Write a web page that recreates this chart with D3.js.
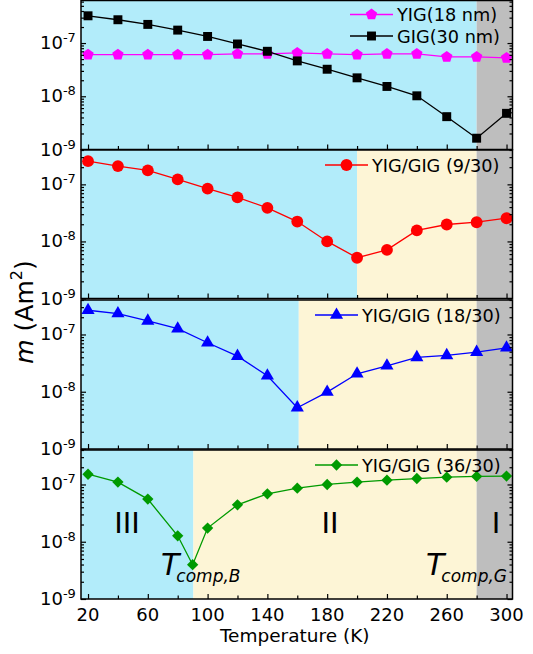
<!DOCTYPE html>
<html>
<head>
<meta charset="utf-8">
<script src="https://cdn.jsdelivr.net/npm/d3@7"></script>
<style>
  html, body { margin: 0; padding: 0; background: #fff; }
  svg { display: block; font-family: "DejaVu Sans", Verdana, sans-serif; }
</style>
</head>
<body>
<svg id="chart" width="533" height="654"></svg>
<script>
// Temperatures (K)
const temps = [20, 40, 60, 80, 100, 120, 140, 160, 180, 200, 220, 240, 260, 280, 300];
const tempsBilayer36 = [20, 40, 60, 80, 90, 100, 120, 140, 160, 180, 200, 220, 240, 260, 280, 300];

// Magnetic moment m (A m^2)
const yig18 = [6.06e-8, 6.06e-8, 6.06e-8, 6.06e-8, 6.06e-8, 6.24e-8, 6.24e-8, 6.52e-8, 6.24e-8, 6.06e-8, 6.24e-8, 6.24e-8, 5.48e-8, 5.48e-8, 5.25e-8];
const gig30 = [3.25e-7, 2.74e-7, 2.24e-7, 1.75e-7, 1.33e-7, 9.6e-8, 7.0e-8, 4.62e-8, 3.22e-8, 2.22e-8, 1.53e-8, 1.02e-8, 4.14e-9, 1.63e-9, 4.78e-9];
const bilayer9 = [2.55e-7, 2.09e-7, 1.76e-7, 1.22e-7, 8.43e-8, 5.91e-8, 3.88e-8, 2.23e-8, 1.0e-8, 5.18e-9, 7.1e-9, 1.56e-8, 1.98e-8, 2.17e-8, 2.55e-8];
const bilayer18 = [2.65e-7, 2.32e-7, 1.73e-7, 1.26e-7, 7.17e-8, 4.19e-8, 1.90e-8, 5.26e-9, 9.87e-9, 2.06e-8, 2.84e-8, 3.97e-8, 4.30e-8, 4.92e-8, 5.85e-8];
const bilayer36 = [1.51e-7, 1.10e-7, 5.55e-8, 1.27e-8, 3.97e-9, 1.73e-8, 4.41e-8, 6.87e-8, 8.63e-8, 1.0e-7, 1.10e-7, 1.19e-7, 1.27e-7, 1.34e-7, 1.38e-7, 1.40e-7];

// Labels
const seriesNames = ["YIG(18 nm)", "GIG(30 nm)", "YIG/GIG (9/30)", "YIG/GIG (18/30)", "YIG/GIG (36/30)"];
const xTickValues = [20, 60, 100, 140, 180, 220, 260, 300];
const yTickExponents = [-9, -8, -7];
const regionNames = ["III", "II", "I"];

// Compensation temperatures bounding the shaded regions (K)
const tCompG = 280;
const tCompB = [200, 161, 90.5];

const svg = d3.select("#chart");
const xLeft = 81, xRight = 512.5;
const x = d3.scaleLinear().domain([15.3, 304]).range([xLeft, xRight]);

const CYAN = "#b2ecfa", BEIGE = "#fdf5d6", GRAY = "#bebebe";
const FS = 18;

// Pentagon symbol
const symbolPentagon = {
  draw(ctx, size) {
    const r = Math.sqrt(size / 2.378);
    for (let i = 0; i < 5; i++) {
      const a = -Math.PI / 2 + i * 2 * Math.PI / 5;
      const px = r * Math.cos(a), py = r * Math.sin(a);
      if (i === 0) ctx.moveTo(px, py); else ctx.lineTo(px, py);
    }
    ctx.closePath();
  }
};

const panels = [
  { top: 0.5, bottom: 149.5, yMax: 6.3e-7, legendX: 397,
    shades: [[15.3, tCompG, CYAN], [tCompG, 304, GRAY]],
    series: [
      { xs: temps, ys: yig18, color: "#ff00ff", symbol: symbolPentagon, size: 85, rot: 0, name: seriesNames[0] },
      { xs: temps, ys: gig30, color: "#000000", symbol: d3.symbolSquare, size: 80, rot: 0, name: seriesNames[1] }
    ] },
  { top: 150, bottom: 298.5, yMax: 4e-7, legendX: 372,
    shades: [[15.3, tCompB[0], CYAN], [tCompB[0], tCompG, BEIGE], [tCompG, 304, GRAY]],
    series: [ { xs: temps, ys: bilayer9, color: "#ff0000", symbol: d3.symbolCircle, size: 110, rot: 0, name: seriesNames[2] } ] },
  { top: 300, bottom: 449, yMax: 4e-7, legendX: 362,
    shades: [[15.3, tCompB[1], CYAN], [tCompB[1], tCompG, BEIGE], [tCompG, 304, GRAY]],
    series: [ { xs: temps, ys: bilayer18, color: "#0000ff", symbol: d3.symbolTriangle, size: 75, rot: 0, name: seriesNames[3] } ] },
  { top: 450, bottom: 599, yMax: 4e-7, legendX: 362,
    shades: [[15.3, tCompB[2], CYAN], [tCompB[2], tCompG, BEIGE], [tCompG, 304, GRAY]],
    series: [ { xs: tempsBilayer36, ys: bilayer36, color: "#009a00", symbol: d3.symbolSquare, size: 64, rot: 45, name: seriesNames[4] } ] }
];

panels.forEach((p, pi) => {
  const y = d3.scaleLog().domain([1e-9, p.yMax]).range([p.bottom, p.top]);
  const g = svg.append("g");

  // Shaded regions
  p.shades.forEach(([a, b, c]) => {
    g.append("rect").attr("x", x(a)).attr("y", p.top)
      .attr("width", x(b) - x(a)).attr("height", p.bottom - p.top).attr("fill", c);
  });

  // Series lines and markers
  p.series.forEach(s => {
    const pts = s.xs.map((t, i) => [t, s.ys[i]]);
    g.append("path").datum(pts)
      .attr("fill", "none").attr("stroke", s.color).attr("stroke-width", 1.3)
      .attr("d", d3.line().x(d => x(d[0])).y(d => y(d[1])));
    g.selectAll(null).data(pts).enter().append("path")
      .attr("d", d3.symbol().type(s.symbol).size(s.size))
      .attr("transform", d => `translate(${x(d[0])},${y(d[1])}) rotate(${s.rot})`)
      .attr("fill", s.color);
  });

  // Frame
  g.append("rect").attr("x", xLeft).attr("y", p.top)
    .attr("width", xRight - xLeft).attr("height", p.bottom - p.top)
    .attr("fill", "none").attr("stroke", "#000").attr("stroke-width", 1.5);

  // Y ticks (major and minor, inward, both sides)
  const majors = yTickExponents.map(e => Math.pow(10, e));
  const minors = [];
  for (let e = -9; e <= -7; e++) for (let m = 2; m <= 9; m++) {
    const v = m * Math.pow(10, e);
    if (v <= p.yMax) minors.push(v);
  }
  const leftAxis = d3.axisLeft(y).tickValues(majors).tickSize(-5).tickFormat("");
  const leftMinor = d3.axisLeft(y).tickValues(minors).tickSize(-3).tickFormat("");
  const rightAxis = d3.axisRight(y).tickValues(majors).tickSize(-5).tickFormat("");
  const rightMinor = d3.axisRight(y).tickValues(minors).tickSize(-3).tickFormat("");
  [[leftAxis, xLeft], [leftMinor, xLeft], [rightAxis, xRight], [rightMinor, xRight]].forEach(([ax, tx]) => {
    const a = g.append("g").attr("transform", `translate(${tx},0)`).call(ax);
    a.select(".domain").remove();
    a.selectAll("line").attr("stroke", "#000").attr("stroke-width", 1.2);
  });

  // Y tick labels: 10^n
  majors.forEach((v, i) => {
    const t = g.append("text").attr("x", 40).attr("y", y(v) + 6)
      .attr("font-size", FS).attr("fill", "#000");
    t.append("tspan").text("10");
    t.append("tspan").attr("font-size", 13).attr("dy", -7).text("-" + Math.abs(yTickExponents[i]).toString());
  });

  // X ticks (inward at panel bottom)
  const xMajor = d3.axisBottom(x).tickValues(xTickValues).tickSize(-5).tickFormat("");
  const xMinor = d3.axisBottom(x).tickValues(temps.filter(t => !xTickValues.includes(t))).tickSize(-3.5).tickFormat("");
  [xMajor, xMinor].forEach(ax => {
    const a = g.append("g").attr("transform", `translate(0,${p.bottom})`).call(ax);
    a.select(".domain").remove();
    a.selectAll("line").attr("stroke", "#000").attr("stroke-width", 1.2);
  });

  // Legend
  p.series.forEach((s, si) => {
    const ly = p.top + (pi === 0 ? 14 + si * 21.5 : 15);
    const tx = p.legendX;
    g.append("text").attr("x", tx).attr("y", ly + 6.5)
      .attr("font-size", 17.7).attr("fill", "#000").text(s.name);
    const x1 = tx - 4, x0 = x1 - 43;
    g.append("line").attr("x1", x0).attr("x2", x1).attr("y1", ly).attr("y2", ly)
      .attr("stroke", s.color).attr("stroke-width", 1.3);
    g.append("path").attr("d", d3.symbol().type(s.symbol).size(s.size))
      .attr("transform", `translate(${(x0 + x1) / 2},${ly}) rotate(${s.rot})`)
      .attr("fill", s.color);
  });

  // X tick labels on bottom panel
  if (pi === panels.length - 1) {
    xTickValues.forEach(v => {
      g.append("text").attr("x", x(v)).attr("y", p.bottom + 22)
        .attr("text-anchor", "middle").attr("font-size", FS).attr("fill", "#000").text(v);
    });
    g.append("text").attr("x", (xLeft + xRight) / 2 - 2).attr("y", p.bottom + 43)
      .attr("text-anchor", "middle").attr("font-size", 18.5).attr("fill", "#000").text("Temperature (K)");

    // Region labels
    const regionX = [127, 330, 496];
    regionNames.forEach((r, i) => {
      g.append("text").attr("x", regionX[i]).attr("y", 533)
        .attr("text-anchor", "middle").attr("font-size", 29).attr("fill", "#000").text(r);
    });

    // Compensation temperature labels
    [["comp,B", 161], ["comp,G", 426]].forEach(([sub, lx]) => {
      const t = g.append("text").attr("x", lx).attr("y", 575)
        .attr("font-size", 30).attr("font-style", "italic").attr("fill", "#000");
      t.append("tspan").text("T");
      t.append("tspan").attr("font-size", 17).attr("dy", 7).attr("dx", -3).text(sub);
    });
  }
});

// Shared y-axis label
const yl = svg.append("text").attr("transform", "translate(33,312) rotate(-90)")
  .attr("text-anchor", "middle").attr("font-size", 25).attr("fill", "#000");
yl.append("tspan").attr("font-style", "italic").text("m");
yl.append("tspan").text(" (Am");
yl.append("tspan").attr("font-size", 16).attr("dy", -11).text("2");
yl.append("tspan").attr("dy", 11).text(")");
</script>
</body>
</html>
